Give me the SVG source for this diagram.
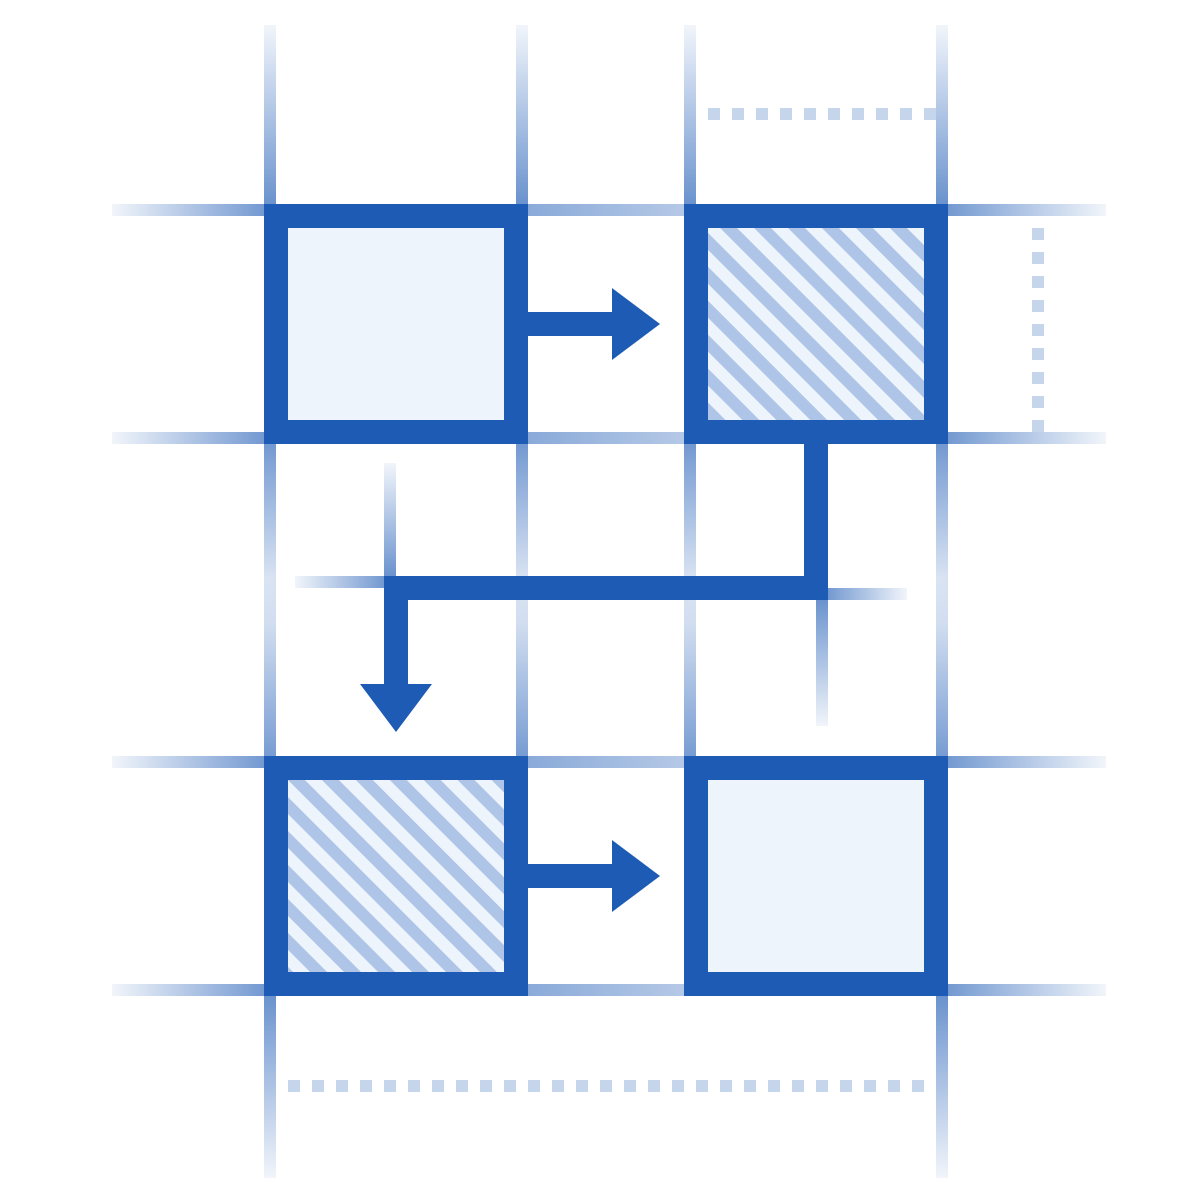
<svg xmlns="http://www.w3.org/2000/svg" width="1200" height="1200" viewBox="0 0 1200 1200">
  <style>
    .box { stroke: #1E5BB5; stroke-width: 24; stroke-linejoin: miter; }
    .plain { fill: #EEF4FC; }
    .hatched { fill: url(#hatch); }
    .conn { fill: none; stroke: #1E5BB5; stroke-width: 24; stroke-linejoin: miter; stroke-linecap: butt; }
    .head { fill: #1E5BB5; }
    .dots { fill: none; stroke: #C5D6EC; stroke-width: 12; stroke-dasharray: 12 12; }
  </style>
  <defs>
    <pattern id="hatch" patternUnits="userSpaceOnUse" width="24" height="24" patternTransform="rotate(45)">
      <rect width="24" height="24" fill="#EEF4FC"/>
      <rect width="24" height="12" fill="#AEC5E8"/>
    </pattern>
    <linearGradient id="fadeUp" x1="0" y1="0" x2="0" y2="1">
      <stop offset="0" stop-color="#1E5BB5" stop-opacity="0.06"/>
      <stop offset="1" stop-color="#1E5BB5" stop-opacity="0.66"/>
    </linearGradient>
    <linearGradient id="fadeDown" x1="0" y1="0" x2="0" y2="1">
      <stop offset="0" stop-color="#1E5BB5" stop-opacity="0.66"/>
      <stop offset="1" stop-color="#1E5BB5" stop-opacity="0.06"/>
    </linearGradient>
    <linearGradient id="fadeLeft" x1="0" y1="0" x2="1" y2="0">
      <stop offset="0" stop-color="#1E5BB5" stop-opacity="0.06"/>
      <stop offset="1" stop-color="#1E5BB5" stop-opacity="0.62"/>
    </linearGradient>
    <linearGradient id="fadeRight" x1="0" y1="0" x2="1" y2="0">
      <stop offset="0" stop-color="#1E5BB5" stop-opacity="0.62"/>
      <stop offset="1" stop-color="#1E5BB5" stop-opacity="0.06"/>
    </linearGradient>
    <linearGradient id="midH" x1="0" y1="0" x2="1" y2="0">
      <stop offset="0" stop-color="#1E5BB5" stop-opacity="0.52"/>
      <stop offset="1" stop-color="#1E5BB5" stop-opacity="0.33"/>
    </linearGradient>
    <linearGradient id="midV" x1="0" y1="0" x2="0" y2="1">
      <stop offset="0" stop-color="#1E5BB5" stop-opacity="0.62"/>
      <stop offset="0.43" stop-color="#1E5BB5" stop-opacity="0.17"/>
      <stop offset="0.57" stop-color="#1E5BB5" stop-opacity="0.2"/>
      <stop offset="1" stop-color="#1E5BB5" stop-opacity="0.6"/>
    </linearGradient>
  </defs>

  <rect width="1200" height="1200" fill="#FFFFFF"/>

  <g id="grid">
    <!-- vertical top -->
    <rect x="264" y="25" width="12" height="179" fill="url(#fadeUp)"/>
    <rect x="516" y="25" width="12" height="179" fill="url(#fadeUp)"/>
    <rect x="684" y="25" width="12" height="179" fill="url(#fadeUp)"/>
    <rect x="936" y="25" width="12" height="179" fill="url(#fadeUp)"/>
    <!-- vertical middle -->
    <rect x="264" y="444" width="12" height="312" fill="url(#midV)"/>
    <rect x="516" y="444" width="12" height="312" fill="url(#midV)"/>
    <rect x="684" y="444" width="12" height="312" fill="url(#midV)"/>
    <rect x="936" y="444" width="12" height="312" fill="url(#midV)"/>
    <!-- vertical bottom -->
    <rect x="264" y="996" width="12" height="182" fill="url(#fadeDown)"/>
    <rect x="936" y="996" width="12" height="182" fill="url(#fadeDown)"/>
    <!-- horizontal left -->
    <rect x="112" y="204" width="152" height="12" fill="url(#fadeLeft)"/>
    <rect x="112" y="432" width="152" height="12" fill="url(#fadeLeft)"/>
    <rect x="112" y="756" width="152" height="12" fill="url(#fadeLeft)"/>
    <rect x="112" y="984" width="152" height="12" fill="url(#fadeLeft)"/>
    <!-- horizontal middle -->
    <rect x="528" y="204" width="156" height="12" fill="url(#midH)"/>
    <rect x="528" y="432" width="156" height="12" fill="url(#midH)"/>
    <rect x="528" y="756" width="156" height="12" fill="url(#midH)"/>
    <rect x="528" y="984" width="156" height="12" fill="url(#midH)"/>
    <!-- horizontal right -->
    <rect x="948" y="204" width="158" height="12" fill="url(#fadeRight)"/>
    <rect x="948" y="432" width="158" height="12" fill="url(#fadeRight)"/>
    <rect x="948" y="756" width="158" height="12" fill="url(#fadeRight)"/>
    <rect x="948" y="984" width="158" height="12" fill="url(#fadeRight)"/>
    <!-- guide stubs at connector corners -->
    <rect x="384" y="463" width="12" height="113" fill="url(#fadeUp)"/>
    <rect x="295" y="576" width="89" height="12" fill="url(#fadeLeft)"/>
    <rect x="828" y="588" width="79" height="12" fill="url(#fadeRight)"/>
    <rect x="816" y="600" width="12" height="126" fill="url(#fadeDown)"/>
  </g>

  <g id="dimensions">
    <line class="dots" x1="708" y1="114" x2="936" y2="114"/>
    <line class="dots" x1="1038" y1="228" x2="1038" y2="432"/>
    <line class="dots" x1="288" y1="1086" x2="924" y2="1086"/>
  </g>

  <g id="connectors">
    <path class="conn" d="M528 324 H612"/>
    <polygon class="head" points="612,288 660,324 612,360"/>
    <path class="conn" d="M816 444 V588 H396 V684"/>
    <polygon class="head" points="360,684 432,684 396,732"/>
    <path class="conn" d="M528 876 H612"/>
    <polygon class="head" points="612,840 660,876 612,912"/>
  </g>

  <g id="node-top-left">
    <rect class="box plain" x="276" y="216" width="240" height="216"/>
  </g>
  <g id="node-top-right">
    <rect class="box hatched" x="696" y="216" width="240" height="216"/>
  </g>
  <g id="node-bottom-left">
    <rect class="box hatched" x="276" y="768" width="240" height="216"/>
  </g>
  <g id="node-bottom-right">
    <rect class="box plain" x="696" y="768" width="240" height="216"/>
  </g>
</svg>
